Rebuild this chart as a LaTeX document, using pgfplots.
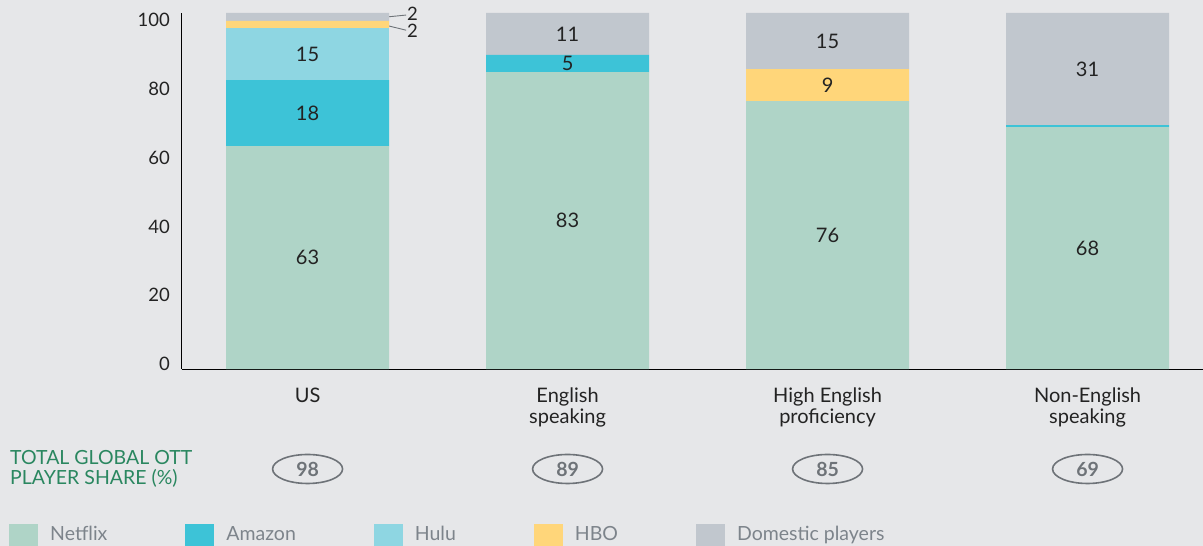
\documentclass[border=0pt]{standalone}
\usepackage{pgfplots}
\pgfplotsset{compat=1.18}
\usepackage{pgfplotstable}
\usetikzlibrary{shapes.geometric}
\usepackage{fontspec}
\setmainfont{Lato}

\definecolor{bg}{RGB}{230,231,233}
\definecolor{netflix}{RGB}{175,212,199}
\definecolor{amazon}{RGB}{61,195,215}
\definecolor{hulu}{RGB}{142,214,226}
\definecolor{hbo}{RGB}{255,214,122}
\definecolor{dom}{RGB}{193,199,206}
\definecolor{ttlgreen}{RGB}{42,135,96}
\definecolor{leg}{RGB}{125,132,139}
\definecolor{ell}{RGB}{110,115,120}
\definecolor{txt}{RGB}{35,35,35}

\pgfplotstableread{
x netflix amazon hulu hbo dom Ln La Lh Lb Ld
0 64.8 19.2 15.1 2.1 2.3 63 18 15 {} {}
1 86.3 5.0 0 0 12.2 83 5 {} {} 11
2 77.9 0 0 9.3 16.3 76 {} {} 9 15
3 70.3 0.6 0 0 32.6 68 {} {} {} 31
}\data

\pgfplotsset{
  seg/.style={
    draw=none, fill=#1,
    nodes near coords, point meta=explicit symbolic,
    every node near coord/.style={anchor=center, font=\fontsize{20}{22}\selectfont, text=txt},
  },
}
\tikzset{
  tot/.style={ellipse, draw=ell, line width=1.6pt, minimum width=70pt, minimum height=29pt, inner sep=0pt,
        font=\bfseries\fontsize{19.5}{20}\selectfont, text=ell},
}

\begin{document}
\begin{tikzpicture}
\useasboundingbox (-182pt,-177pt) rectangle (1021pt,369pt);
\fill[bg] (-182pt,-177pt) rectangle (1021pt,369pt);
\begin{axis}[
  at={(0pt,0pt)}, anchor=south west,
  scale only axis, width=1021pt, height=356pt,
  xmin=-0.483, xmax=3.444, ymin=0, ymax=103.5,
  ybar stacked, bar width=163pt,
  axis x line=bottom, axis y line=left,
  axis line style={-, line width=1pt, black},
  major tick length=0pt,
  clip=false,
  /pgf/number format/assume math mode=true,
  ytick={0,20,40,60,80,100},
  yticklabel style={font=\fontsize{18.5}{20}\selectfont, text=txt, anchor=east, inner sep=0pt, xshift=-12pt, yshift=5pt},
  xtick={0,1,2,3},
  xticklabels={US,{English\\speaking},{High English\\proficiency},{Non-English\\speaking}},
  xticklabel style={align=center, anchor=north, inner sep=0pt, yshift=-19pt, font=\fontsize{20}{21}\selectfont, text=txt},
  legend columns=5,
  legend cell align=left,
  legend image code/.code={\fill[#1] (0pt,-19pt) rectangle (29pt,10pt);},
  legend style={at={(axis description cs:-0.16944,-0.43539)}, anchor=north west,
    draw=none, fill=none, inner sep=0pt,
    font=\fontsize{19.5}{21}\selectfont, text=leg,
    nodes={inner sep=0pt},
    /tikz/every odd column/.append style={column sep=12pt},
    /tikz/every even column/.append style={column sep=78pt}},
]
\addplot[seg=netflix] table[x=x, y=netflix, meta=Ln] {\data};
\addlegendentry{Netflix}
\addplot[seg=amazon] table[x=x, y=amazon, meta=La] {\data};
\addlegendentry{Amazon}
\addplot[seg=hulu] table[x=x, y=hulu, meta=Lh] {\data};
\addlegendentry{Hulu}
\addplot[seg=hbo] table[x=x, y=hbo, meta=Lb] {\data};
\addlegendentry{HBO}
\addplot[seg=dom] table[x=x, y=dom, meta=Ld] {\data};
\addlegendentry{Domestic players}

% leader lines for small US segments
\draw[ell, line width=0.9pt] (axis cs:0.298,102.3) -- (axis cs:0.379,102.9);
\draw[ell, line width=0.9pt] (axis cs:0.298,100.0) -- (axis cs:0.379,98.5);
\node[font=\fontsize{18.5}{20}\selectfont, text=txt, inner sep=0pt] at (axis cs:0.404,103.4) {2};
\node[font=\fontsize{18.5}{20}\selectfont, text=txt, inner sep=0pt] at (axis cs:0.404,98.3) {2};

% totals
\node[tot] at (axis cs:0,-29.07) {98};
\node[tot] at (axis cs:1,-29.07) {89};
\node[tot] at (axis cs:2,-29.07) {85};
\node[tot] at (axis cs:3,-29.07) {69};
\end{axis}
\node[anchor=west, align=left, text=ttlgreen, inner sep=0pt, font=\fontsize{19.5}{20.5}\selectfont] at (-172pt,-100pt) {TOTAL GLOBAL OTT\\PLAYER SHARE (\%)};
\end{tikzpicture}
\end{document}
